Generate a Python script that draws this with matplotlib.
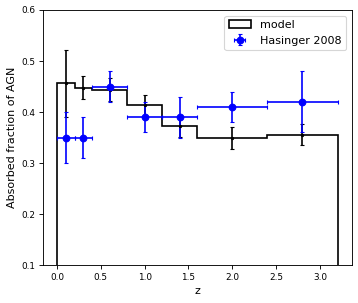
import numpy as np
import matplotlib
matplotlib.use("Agg")
import matplotlib.pyplot as plt

# redshift bins and model fraction
edges = [0.0, 0.2, 0.4, 0.8, 1.2, 1.6, 2.4, 3.2]
model = [0.456, 0.448, 0.444, 0.413, 0.373, 0.349, 0.356]
model_err = [0.066, 0.022, 0.023, 0.02, 0.022, 0.022, 0.021]

# Hasinger 2008 points
z_h = [0.1, 0.3, 0.6, 1.0, 1.4, 2.0, 2.8]
frac_h = [0.35, 0.35, 0.45, 0.39, 0.39, 0.41, 0.42]
frac_h_err = [0.05, 0.04, 0.03, 0.03, 0.04, 0.03, 0.06]

edges = np.array(edges)
centers = (edges[:-1] + edges[1:]) / 2
halfw = (edges[1:] - edges[:-1]) / 2

fig = plt.figure(figsize=(358 / 80, 303 / 80), dpi=80)
ax = fig.add_axes([0.12, 0.125, 0.862, 0.842])

ax.hist(centers, bins=edges, weights=model, histtype='step', color='k',
        linewidth=1.5, label='model')
ax.errorbar(centers, model, yerr=model_err, fmt='k.', markersize=4, capsize=2)
ax.errorbar(z_h, frac_h, xerr=halfw, yerr=frac_h_err, fmt='bo',
            markersize=6, capsize=2, label='Hasinger 2008')

ax.set_ylim(0.1, 0.6)
ax.tick_params(labelsize=8)
ax.set_xlabel('z')
ax.set_ylabel('Absorbed fraction of AGN')
ax.legend(loc='upper right')

fig.savefig('out.png', dpi=80)
